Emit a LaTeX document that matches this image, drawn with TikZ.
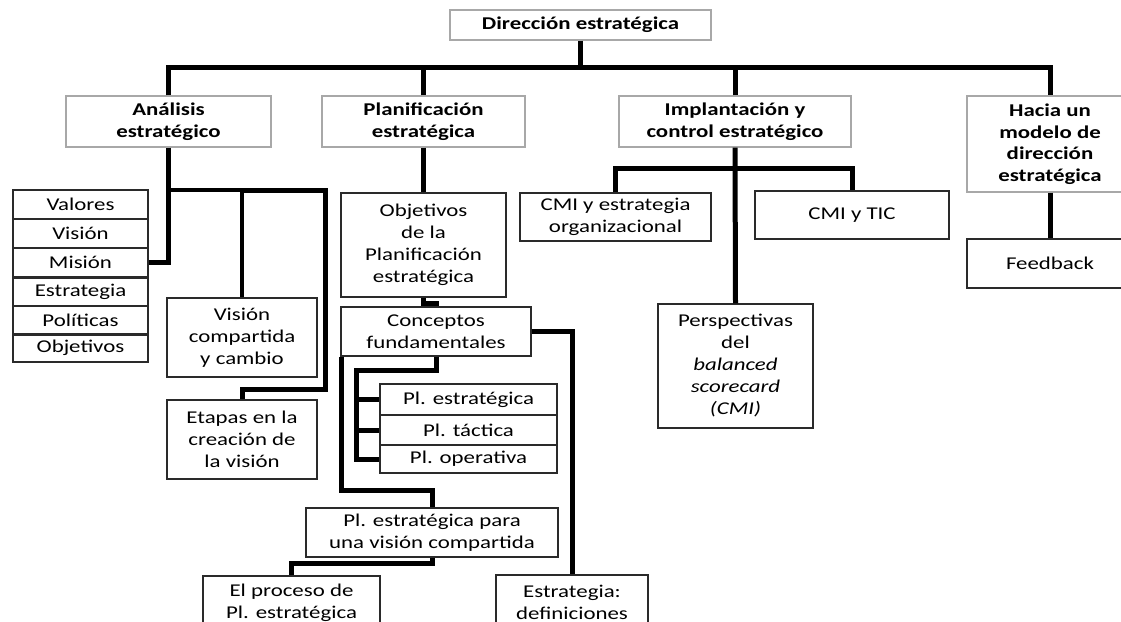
\documentclass[tikz,border=0pt]{standalone}
\usepackage{fontspec}
\setmainfont{Carlito}[FakeStretch=1.27]
\definecolor{boxline}{HTML}{2A2A2A}
\definecolor{headline}{HTML}{A8A8A8}
\begin{document}
\begin{tikzpicture}[x=1pt,y=-1pt,
  sz/.style 2 args={minimum width=#1pt, minimum height=#2pt},
  box/.style={draw=boxline, line width=1.2pt, fill=white, inner sep=0pt,
    align=center, font=\fontsize{18}{22}\selectfont},
  headbox/.style={box, draw=headline, font=\fontsize{18}{21.5}\selectfont\bfseries},
  thk/.style={line width=5pt, black},
  mid/.style={line width=3.5pt, black},
]
\useasboundingbox (0,0) rectangle (1121,621);
\clip (0,0) rectangle (1121,621);

% top level and the four areas
\node[headbox, sz={261}{30}] (dir) at (580.5,25) {Dirección estratégica};
\node[headbox, sz={205}{51}] (anal) at (168.5,121.5) {Análisis\\estratégico};
\node[headbox, sz={203}{51}] (plan) at (423.5,121.5) {Planificación\\estratégica};
\node[headbox, sz={232}{51}] (impl) at (735,121.5) {Implantación y\\control estratégico};
\node[headbox, sz={166}{96}] (hacia) at (1050,144) {Hacia un\\modelo de\\dirección\\estratégica};

% strategic analysis
\node[box, sz={135}{29}] (val) at (80.5,204.5) {Valores};
\node[box, sz={135}{29}] (vis) at (80.5,233.5) {Visión};
\node[box, sz={135}{29}] (mis) at (80.5,262.5) {Misión};
\node[box, sz={135}{29}] (est) at (80.5,291.5) {Estrategia};
\node[box, sz={135}{28}] (pol) at (80.5,320) {Políticas};
\node[box, sz={135}{28}] (obj) at (80.5,348) {Objetivos};
\draw[line width=2.4pt, boxline] (mis.south west) -- (mis.south east);
\draw[line width=2.4pt, boxline] (pol.south west) -- (pol.south east);
\node[box, sz={150}{79}] (viscomp) at (242,337.5) {Visión\\compartida\\y cambio};
\node[box, sz={150}{79}] (etapas) at (242,439.5) {Etapas en la\\creación de\\la visión};

% strategic planning
\node[box, sz={165}{104}] (objp) at (423.5,245) {Objetivos\\de la\\Planificación\\estratégica};
\node[box, sz={190}{49}] (conc) at (436,331.5) {Conceptos\\fundamentales};
\node[box, sz={177}{31}] (ples) at (468.5,399.5) {Pl. estratégica};
\node[box, sz={177}{30}] (pltac) at (468.5,430) {Pl. táctica};
\node[box, sz={177}{28}] (plop) at (468.5,459) {Pl. operativa};
\node[box, sz={252}{49}] (plvc) at (432,532.5) {Pl. estratégica para\\una visión compartida};
\node[box, sz={177}{53}] (proc) at (291.5,602.5) {El proceso de\\Pl. estratégica};
\node[box, sz={152}{54}] (estr) at (572,602) {Estrategia:\\definiciones};

% implementation and control
\node[box, sz={191}{48}] (cmie) at (615.5,217) {CMI y estrategia\\organizacional};
\node[box, sz={194}{48}] (cmit) at (852,215) {CMI y TIC};
\node[box, sz={155}{124}] (persp) at (735.5,366) {Perspectivas\\del\\\textit{balanced}\\\textit{scorecard}\\\textit{(CMI)}};

% towards a model
\node[box, sz={166}{49}] (feed) at (1050,263.5) {Feedback};

% main tree
\coordinate (bar) at (580.5,67);
\draw[thk] (dir.south) -- (bar);
\draw[thk] (anal.north) |- (bar) -| (hacia.north);
\draw[thk] (plan.north) -- (plan.north |- bar);
\draw[thk] (impl.north) -- (impl.north |- bar);

% analysis branches
\coordinate (a1) at (168.5,190);
\coordinate (a2) at (325,389);
\draw[thk] (anal.south) |- (mis.east);
\draw[mid] (a1) -| (viscomp.north);
\draw[thk] (viscomp.north |- a1) -| (a2) -| (etapas.north);

% planning branches
\coordinate (c1) at (356,370);
\draw[thk] (plan.south) -- (objp.north);
\draw[thk] (objp.south) -- ++(0,6) -| (conc.north);
\draw[thk] (conc.east) -| (estr.north);
\draw[thk] (conc.south) |- (c1) |- (plop.west);
\draw[thk] (c1 |- ples.west) -- (ples.west);
\draw[thk] (c1 |- pltac.west) -- (pltac.west);
\draw[thk] ([xshift=1.5pt]conc.south west) -- ++(0,134) -| (plvc.north);
\draw[thk] (plvc.south) -- ++(0,6) -| (proc.north);

% implementation branches
\coordinate (i1) at (735,168);
\draw[thk] (cmie.north) |- (i1) -| (cmit.north);
\draw[thk] (impl.south) -- (persp.north);

% feedback
\draw[thk] (hacia.south) -- (feed.north);
\end{tikzpicture}
\end{document}
